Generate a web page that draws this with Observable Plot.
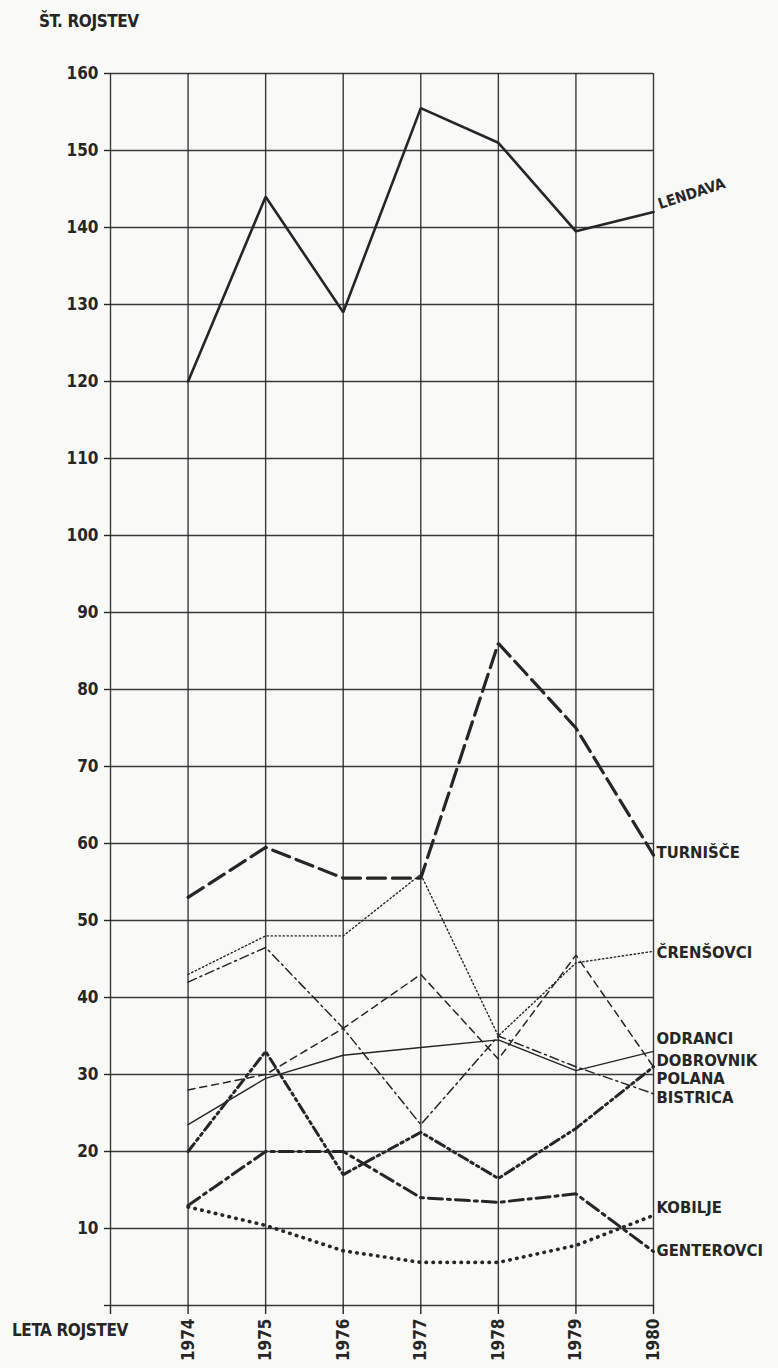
<!DOCTYPE html>
<html>
<head>
<meta charset="utf-8">
<script src="https://cdn.jsdelivr.net/npm/d3@7"></script>
<script src="https://cdn.jsdelivr.net/npm/@observablehq/plot@0.6"></script>
<style>
  html, body { margin: 0; padding: 0; background: #f9f9f7; }
  #wrap { position: relative; width: 778px; height: 1368px; overflow: hidden; }
  .lbl { position: absolute; font-family: "DejaVu Sans", sans-serif; font-stretch: condensed; font-weight: bold; color: #262626; font-size: 17px; letter-spacing: -0.4px; white-space: nowrap; }
  svg text { font-stretch: condensed; }
</style>
</head>
<body>
<div id="wrap">
  <div class="lbl" style="left:39px; top:11px;">ŠT. ROJSTEV</div>
  <div class="lbl" style="left:12px; top:1320px;">LETA ROJSTEV</div>
</div>
<script>
// ---- data ----
const years = [1974, 1975, 1976, 1977, 1978, 1979, 1980];
const xTicks = [1973, 1974, 1975, 1976, 1977, 1978, 1979, 1980];
const yTicks = [0, 10, 20, 30, 40, 50, 60, 70, 80, 90, 100, 110, 120, 130, 140, 150, 160];

const lendava    = [120, 144, 129, 155.5, 151, 139.5, 142];
const turnisce   = [53, 59.5, 55.5, 55.5, 86, 75, 58.5];
const crensovci  = [43, 48, 48, 56, 35, 44.5, 46];
const odranci    = [23.5, 29.5, 32.5, 33.5, 34.5, 30.5, 33];
const dobrovnik  = [28, 30, 36, 43, 32, 45.5, 31];
const polana     = [20, 33, 17, 22.5, 16.5, 23, 31];
const bistrica   = [42, 46.5, 36, 23.5, 35, 31, 27.5];
const kobilje    = [12.8, 10.4, 7.1, 5.6, 5.6, 7.8, 11.7];
const genterovci = [13, 20, 20, 14, 13.4, 14.5, 7];

const seriesNames = ["LENDAVA", "TURNIŠČE", "ČRENŠOVCI", "ODRANCI", "DOBROVNIK", "POLANA", "BISTRICA", "KOBILJE", "GENTEROVCI"];
const seriesValues = [lendava, turnisce, crensovci, odranci, dobrovnik, polana, bistrica, kobilje, genterovci];
// where each end label sits (value units)
const labelAt = [143.5, 58.8, 45.8, 34.7, 31.8, 29.4, 27.0, 12.7, 7.1];

// ---- styles ----
const styles = {
  "LENDAVA":    {strokeWidth: 2.6},
  "TURNIŠČE":   {strokeWidth: 3.2, strokeDasharray: "18,7"},
  "ČRENŠOVCI":  {strokeWidth: 1.4, strokeDasharray: "1.4,2.6"},
  "ODRANCI":    {strokeWidth: 1.4},
  "DOBROVNIK":  {strokeWidth: 1.5, strokeDasharray: "7,5"},
  "POLANA":     {strokeWidth: 3, strokeDasharray: "10,4,2.5,4,2.5,4"},
  "BISTRICA":   {strokeWidth: 1.5, strokeDasharray: "9,4,2,4"},
  "KOBILJE":    {strokeWidth: 3.6, strokeDasharray: "0.5,6.5", strokeLinecap: "round"},
  "GENTEROVCI": {strokeWidth: 3, strokeDasharray: "14,5,3,5"}
};

const rows = [];
seriesNames.forEach((name, i) => {
  years.forEach((yr, j) => rows.push({series: name, year: yr, value: seriesValues[i][j]}));
});
const labels = seriesNames.map((name, i) => ({series: name, year: 1980, value: labelAt[i]}));

const ink = "#262626";
const font = "'DejaVu Sans', sans-serif";

const lineMarks = seriesNames.map(name => Plot.line(rows.filter(d => d.series === name), {
  x: "year", y: "value", stroke: ink, strokeLinejoin: "miter", ...styles[name]
}));

const chart = Plot.plot({
  width: 778,
  height: 1368,
  marginLeft: 110,
  marginRight: 125,
  marginTop: 73,
  marginBottom: 63,
  x: {domain: [1973, 1980]},
  y: {domain: [0, 160]},
  style: {background: "transparent", fontFamily: font, color: ink, fontStretch: "condensed"},
  marks: [
    Plot.gridX(xTicks, {stroke: ink, strokeOpacity: 0.9, strokeWidth: 1.4}),
    Plot.gridY(yTicks, {stroke: ink, strokeOpacity: 0.9, strokeWidth: 1.4}),
    Plot.axisY(yTicks, {tickSize: 6, tickPadding: 6, tickFormat: d => d === 0 ? "" : String(d),
      fontSize: 17, fontWeight: "bold", label: null, strokeWidth: 1.4}),
    Plot.axisX(xTicks, {tickSize: 9, tickPadding: 4, tickRotate: -90,
      tickFormat: d => d === 1973 ? "" : String(d), fontSize: 17, fontWeight: "bold", label: null, strokeWidth: 1.4}),
    ...lineMarks,
    Plot.text(labels.filter(d => d.series !== "LENDAVA"), {
      x: "year", y: "value", text: "series", dx: 3, textAnchor: "start",
      fontSize: 16.5, fontWeight: "bold", fill: ink
    }),
    Plot.text(labels.filter(d => d.series === "LENDAVA"), {
      x: "year", y: "value", text: "series", dx: 5, dy: 4, textAnchor: "start", rotate: -18,
      fontSize: 15, fontWeight: "bold", fill: ink
    })
  ]
});
chart.style.position = "absolute";
chart.style.left = "0px";
chart.style.top = "0px";
document.getElementById("wrap").appendChild(chart);
</script>
</body>
</html>
